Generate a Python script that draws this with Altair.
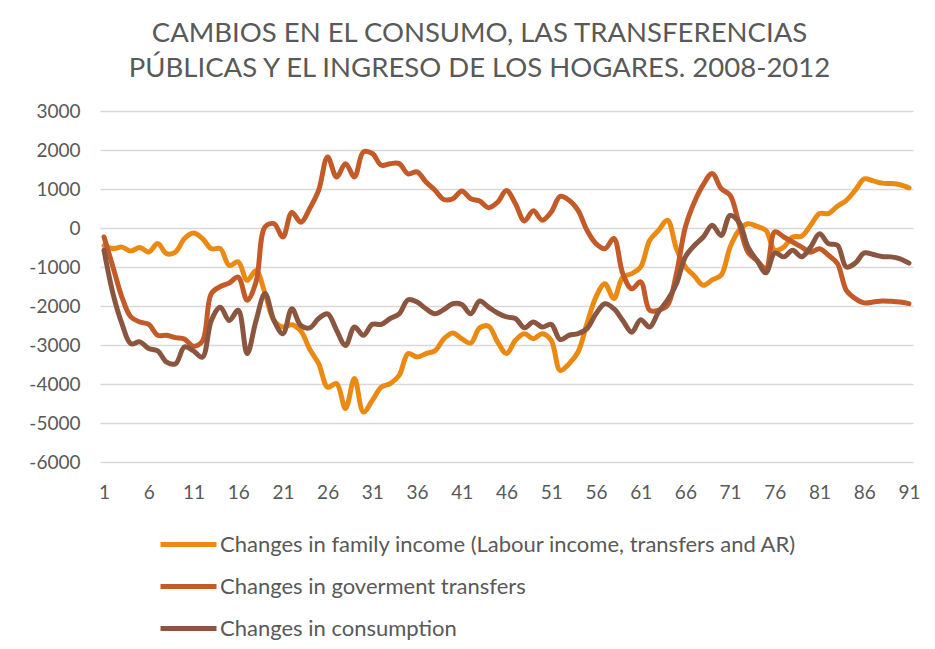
import altair as alt
import pandas as pd

periods = list(range(1, 92))

family_income = [
    -450, -530, -490, -590, -500, -615, -400, -660, -615, -270,
    -130, -270, -530, -530, -960, -870, -1340, -1090, -1680, -2370,
    -2540, -2480, -2640, -3110, -3480, -4080, -3990, -4630, -3860, -4720,
    -4420, -4080, -3990, -3780, -3220, -3310, -3220, -3150, -2840, -2690,
    -2840, -2950, -2560, -2520, -2920, -3220, -2880, -2710, -2840, -2710,
    -2880, -3650, -3480, -3180, -2450, -1770, -1430, -1810, -1260, -1170,
    -1000, -320, -60, 200, -530, -1000, -1230, -1470, -1330, -1210,
    -490, -60, 110, 40, -60, -570, -490, -230, -210, 70,
    370, 370, 560, 710, 970, 1260, 1210, 1150, 1140, 1110,
    1030,
]

gov_transfers = [
    -230, -1000, -1770, -2280, -2410, -2470, -2750, -2750, -2810, -2850,
    -3030, -2900, -1680, -1500, -1410, -1260, -1850, -1380, 25, 110,
    -230, 400, 150, 500, 970, 1820, 1310, 1650, 1310, 1950,
    1910, 1610, 1650, 1650, 1390, 1440, 1180, 970, 730, 750,
    950, 750, 690, 520, 660, 960, 620, 180, 440, 200,
    410, 810, 710, 450, -60, -400, -530, -270, -1170, -1560,
    -1380, -2110, -2110, -1980, -1170, 25, 660, 1110, 1400, 1010,
    840, 110, -620, -830, -1040, -100, -230, -360, -490, -620,
    -530, -700, -910, -1600, -1810, -1920, -1900, -1870, -1880, -1900,
    -1940,
]

consumption = [
    -570, -1680, -2450, -2970, -2920, -3090, -3150, -3440, -3480, -3050,
    -3150, -3310, -2370, -2030, -2370, -2110, -3220, -2370, -1680, -2370,
    -2710, -2070, -2500, -2560, -2320, -2200, -2620, -3010, -2540, -2750,
    -2470, -2470, -2320, -2200, -1840, -1900, -2070, -2200, -2090, -1940,
    -1960, -2200, -1870, -2030, -2180, -2280, -2320, -2560, -2410, -2540,
    -2470, -2860, -2750, -2710, -2580, -2200, -1940, -2070, -2370, -2670,
    -2350, -2540, -2150, -1850, -1430, -740, -450, -230, 70, -190,
    320, 150, -490, -830, -1150, -640, -740, -570, -740, -490,
    -150, -400, -440, -1000, -900, -640, -680, -730, -740, -790,
    -900,
]

series_names = [
    "Changes in family income (Labour income, transfers and AR)",
    "Changes in goverment transfers",
    "Changes in consumption",
]
series_colors = ["#EB8A12", "#C35B29", "#8B5640"]

x_ticks = list(range(1, 92, 5))
y_ticks = list(range(-6000, 3001, 1000))

title_lines = [
    "CAMBIOS EN EL CONSUMO, LAS TRANSFERENCIAS",
    "PÚBLICAS Y EL INGRESO DE LOS HOGARES. 2008-2012",
]

rows = []
for k, (name, vals) in enumerate(zip(series_names, [family_income, gov_transfers, consumption])):
    for p, v in zip(periods, vals):
        rows.append({"period": p, "value": v, "series": name, "k": k})
df = pd.DataFrame(rows)

FONT = "Lato"
GREY = "#595959"

chart = (
    alt.Chart(df)
    .mark_line(interpolate="catmull-rom", strokeWidth=5, strokeCap="round", strokeJoin="round")
    .encode(
        x=alt.X(
            "period:Q",
            scale=alt.Scale(domain=[0.55, 91.45], nice=False, zero=False),
            axis=alt.Axis(
                values=x_ticks, title=None, grid=False, domain=False, ticks=False,
                labelPadding=21, labelFontSize=19, labelColor=GREY, labelFont=FONT,
            ),
        ),
        y=alt.Y(
            "value:Q",
            scale=alt.Scale(domain=[-6000, 3000], nice=False),
            axis=alt.Axis(
                values=y_ticks, title=None, domain=False, ticks=False,
                labelExpr="datum.value < 0 ? '-' + abs(datum.value) : '' + datum.value",
                labelPadding=20, labelFontSize=19, labelColor=GREY, labelFont=FONT,
                gridColor="#d9d9d9", gridWidth=1.5,
            ),
        ),
        color=alt.Color(
            "series:N",
            scale=alt.Scale(domain=series_names, range=series_colors),
            legend=alt.Legend(
                title=None, orient="none", legendX=58, legendY=403, direction="vertical",
                symbolType="stroke", symbolSize=3136, symbolStrokeWidth=5,
                labelFont=FONT, labelFontSize=22, labelColor=GREY, labelLimit=900,
                labelOffset=1, rowPadding=-12.5,
            ),
        ),
        order=alt.Order("period:Q"),
    )
    .properties(
        width=813,
        height=351,
        padding={"left": 92, "top": 103, "right": 14, "bottom": 179},
        autosize=alt.AutoSizeParams(type="none"),
        title=alt.TitleParams(
            text=title_lines, font=FONT, fontSize=27.5, fontWeight="normal", color=GREY,
            anchor="middle", frame="group", dx=-27, offset=20, lineHeight=35,
        ),
    )
    .configure_view(stroke=None)
)

chart.save("out.html", embed_options={"renderer": "svg", "actions": False})
